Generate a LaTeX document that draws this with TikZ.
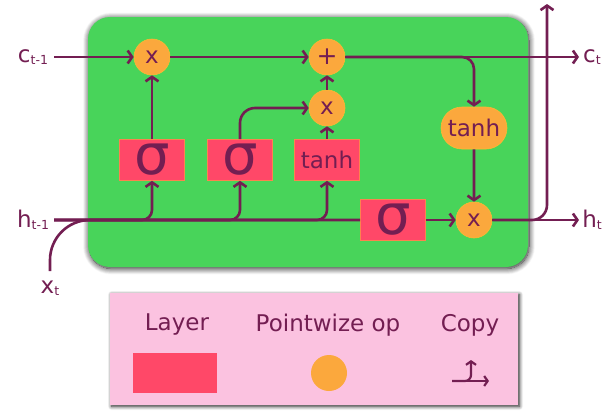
\documentclass[tikz,border=0pt]{standalone}
\usepackage{fontspec}
\setmainfont{DejaVu Sans}
\usetikzlibrary{arrows.meta,shadows.blur,shapes.misc}
\definecolor{cellgreen}{RGB}{72,212,90}
\definecolor{oporange}{RGB}{251,168,61}
\definecolor{layerred}{RGB}{255,72,104}
\definecolor{ink}{RGB}{115,30,82}
\definecolor{legpink}{RGB}{251,194,224}
\newcommand{\sbs}[1]{{\fontsize{12.5}{14}\selectfont\raisebox{-2pt}{#1}}}
\begin{document}
\begin{tikzpicture}[x=1pt,y=-1pt,
  font=\fontsize{23}{27}\selectfont,
  every node/.style={text=ink},
  layer/.style={fill=layerred, draw=oporange!60!layerred, line width=0.6pt, minimum width=65pt, minimum height=41pt, inner sep=0pt},
  sig/.style={layer, font=\fontsize{56}{56}\selectfont},
  op/.style={circle, fill=oporange, draw=oporange!80!yellow, line width=0.6pt, minimum size=36pt, inner sep=0pt, font=\fontsize{23}{26}\selectfont},
  pill/.style={rounded rectangle, fill=oporange, draw=oporange!80!yellow, line width=0.6pt, minimum width=66pt, minimum height=42pt, inner sep=0pt},
  cellbox/.style={fill=cellgreen, rounded corners=22pt, minimum width=440pt, minimum height=250pt,
    blur shadow={shadow blur steps=12, shadow xshift=1pt, shadow yshift=-1.5pt, shadow blur radius=6pt, shadow opacity=90}},
  legendbox/.style={fill=legpink, minimum width=408pt, minimum height=112pt,
    blur shadow={shadow blur steps=8, shadow xshift=1.5pt, shadow yshift=-1.5pt, shadow blur radius=3.5pt, shadow opacity=85}},
  wire/.style={draw=ink, line width=2.6pt},
  arr/.style={wire, -{Straight Barb[length=4.5pt,width=13pt]}},
  smallarr/.style={draw=ink, line width=2.2pt, -{Straight Barb[length=3.5pt,width=10pt]}},
]
\useasboundingbox (0,0) rectangle (613,413);

% cell
\node[cellbox] (cell) at (308,142) {};

% nodes
\node[op] (mul1) at (152,57) {x};
\node[op, font=\fontsize{25}{26}\selectfont] (add) at (327,57) {+};
\node[op] (mul2) at (327,108) {x};
\node[sig] (s1) at (152,160) {σ};
\node[sig] (s2) at (240,160) {σ};
\node[layer] (th1) at (327,160) {tanh};
\node[sig] (s3) at (393,220) {σ};
\node[op] (mul3) at (474,220) {x};
\node[pill] (th2) at (474,128) {tanh};

% labels
\node (cin) at (33,57) {c\sbs{t-1}};
\node (hin) at (33,220) {h\sbs{t-1}};
\node (xin) at (50,288) {x\sbs{t}};
\node (ct) at (592,57) {c\sbs{t}};
\node (ht) at (592,220) {h\sbs{t}};

\coordinate (cstart) at (54,57);
\coordinate (hstart) at (54,220);
\coordinate (xstart) at (50,271);
\coordinate (cend) at (579,57);
\coordinate (hend) at (579,220);
\coordinate (up) at (547,4);

% cell state line
\draw[arr] (cstart) -- (mul1);
\draw[arr] (mul1) -- (add);
\draw[arr, rounded corners=12pt] (add.east) -| (th2.north);
\draw[arr] (th2) -- (mul3);

% gates
\draw[arr] (s1) -- (mul1);
\draw[arr, rounded corners=15pt] (s2.north) |- (mul2.west);
\draw[arr] (th1) -- (mul2);
\draw[arr] (mul2) -- (add);

% hidden input
\draw[wire] (hstart) -- (s3.west);
\draw[wire, rounded corners=40pt] (xstart) |- (s3.west);
\draw[arr, rounded corners=10pt] (hstart) -| (s1.south);
\draw[arr, rounded corners=10pt] (hstart) -| (s2.south);
\draw[arr, rounded corners=10pt] (hstart) -| (th1.south);
\draw[arr] (s3) -- (mul3);

% outputs
\draw[arr] (mul3) -- (hend);
\draw[arr, rounded corners=15pt] (mul3.east) -| (up);
\draw[arr] (add) -- (cend);

% legend
\node[legendbox] (legend) at (314,349) {};
\node (lg1) at (177,325) {Layer};
\node (lg2) at (328,325) {Pointwize op};
\node (lg3) at (470,325) {Copy};
\node[layer, minimum width=84pt, minimum height=40pt, draw=none] (lgl) at (175,373) {};
\node[op, draw=none] (lgo) at (329,373) {};
\coordinate (cp1) at (452,381);
\coordinate (cp2) at (489,381);
\coordinate (cp3) at (471,360);
\draw[smallarr] (cp1) -- (cp2);
\draw[smallarr, rounded corners=6pt] (cp1) -| (cp3);
\end{tikzpicture}
\end{document}
